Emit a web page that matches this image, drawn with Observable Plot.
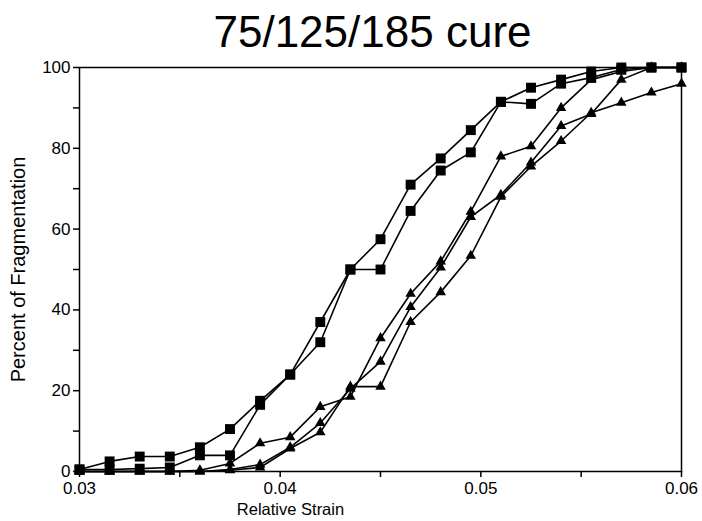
<!DOCTYPE html>
<html>
<head>
<meta charset="utf-8">
<script src="https://cdn.jsdelivr.net/npm/d3@7"></script>
<script src="https://cdn.jsdelivr.net/npm/@observablehq/plot@0.6"></script>
<style>
  html, body { margin: 0; padding: 0; background: white; }
</style>
</head>
<body>
<div id="chart"></div>
<script>
const strain = [0.03, 0.0315, 0.033, 0.0345, 0.036, 0.0375, 0.039, 0.0405, 0.042, 0.0435, 0.045,
                0.0465, 0.048, 0.0495, 0.051, 0.0525, 0.054, 0.0555, 0.057, 0.0585, 0.06];
const squareA = [0.5, 2.5, 3.7, 3.7, 6, 10.5, 17.5, 24, 37, 50, 57.5, 71, 77.5, 84.5, 91.5, 95, 97, 99, 100, 100, 100];
const squareB = [0.5, 0.5, 0.7, 1, 4, 4, 16.5, 24, 32, 50, 50, 64.5, 74.5, 79, 91.5, 91, 96, 97.5, 99.5, 100, 100];
const triA = [0, 0, 0, 0, 0.3, 2, 7, 8.5, 16, 18.5, 33, 44, 52, 64.3, 78, 80.5, 90, 97, 99, 100, 100];
const triB = [0, 0, 0, 0, 0, 0.5, 1.7, 6, 12, 20.5, 27.2, 40.7, 50.5, 63, 68.5, 76.5, 85.5, 88.5, 97, 100, 100];
const triC = [0, 0, 0, 0, 0, 0.3, 1, 5.7, 9.7, 21, 21, 37, 44.4, 53.4, 68, 75.5, 81.8, 88.8, 91.3, 93.8, 96];

const xTicks = [0.03, 0.04, 0.05, 0.06];
const xMinorTicks = [0.035, 0.045, 0.055];
const yTicks = [0, 20, 40, 60, 80, 100];
const yMinorTicks = [10, 30, 50, 70, 90];

const seriesList = [
  {name: "squareA", shape: "square", values: squareA},
  {name: "squareB", shape: "square", values: squareB},
  {name: "triA", shape: "triangle", values: triA},
  {name: "triB", shape: "triangle", values: triB},
  {name: "triC", shape: "triangle", values: triC}
];
const rows = seriesList.flatMap(s => s.values.map((v, i) => ({series: s.name, shape: s.shape, strain: strain[i], value: v})));
const squares = rows.filter(d => d.shape === "square");
const triangles = rows.filter(d => d.shape === "triangle");

const chart = Plot.plot({
  width: 702,
  height: 521,
  marginTop: 67,
  marginBottom: 50,
  marginLeft: 79,
  marginRight: 21,
  style: {fontFamily: "'Liberation Sans', Arial, sans-serif", fontSize: "17px", color: "black", background: "white"},
  x: {domain: [0.03, 0.06]},
  y: {domain: [0, 100]},
  marks: [
    Plot.frame({stroke: "black", strokeWidth: 1.5}),
    Plot.axisX({ticks: xTicks, tickFormat: d3.format(".2f"), tickSize: 6, tickPadding: 4, strokeWidth: 1.5, label: null}),
    Plot.axisX({ticks: xMinorTicks, tickFormat: () => "", tickSize: 6, strokeWidth: 1.5, label: null}),
    Plot.axisY({ticks: yTicks, tickSize: 6, tickPadding: 3, strokeWidth: 1.5, label: null}),
    Plot.axisY({ticks: yMinorTicks, tickFormat: () => "", tickSize: 6, strokeWidth: 1.5, label: null}),
    Plot.line(rows, {x: "strain", y: "value", z: "series", stroke: "black", strokeWidth: 1.6}),
    Plot.dot(squares, {x: "strain", y: "value", symbol: "square", r: 5.6, fill: "black"}),
    Plot.dot(triangles, {x: "strain", y: "value", symbol: "triangle", r: 3.9, fill: "black"}),
    Plot.text(["75/125/185 cure"], {frameAnchor: "top", lineAnchor: "middle", dx: -8, dy: -35, fontSize: 44, fill: "black"}),
    Plot.text(["Relative Strain"], {frameAnchor: "bottom", lineAnchor: "middle", dx: -90, dy: 38, fontSize: 16.5, fill: "black"}),
    Plot.text(["Percent of Fragmentation"], {frameAnchor: "left", textAnchor: "middle", lineAnchor: "middle", dx: -61, dy: 0, rotate: -90, fontSize: 20, fill: "black"})
  ]
});
document.getElementById("chart").appendChild(chart);
</script>
</body>
</html>
